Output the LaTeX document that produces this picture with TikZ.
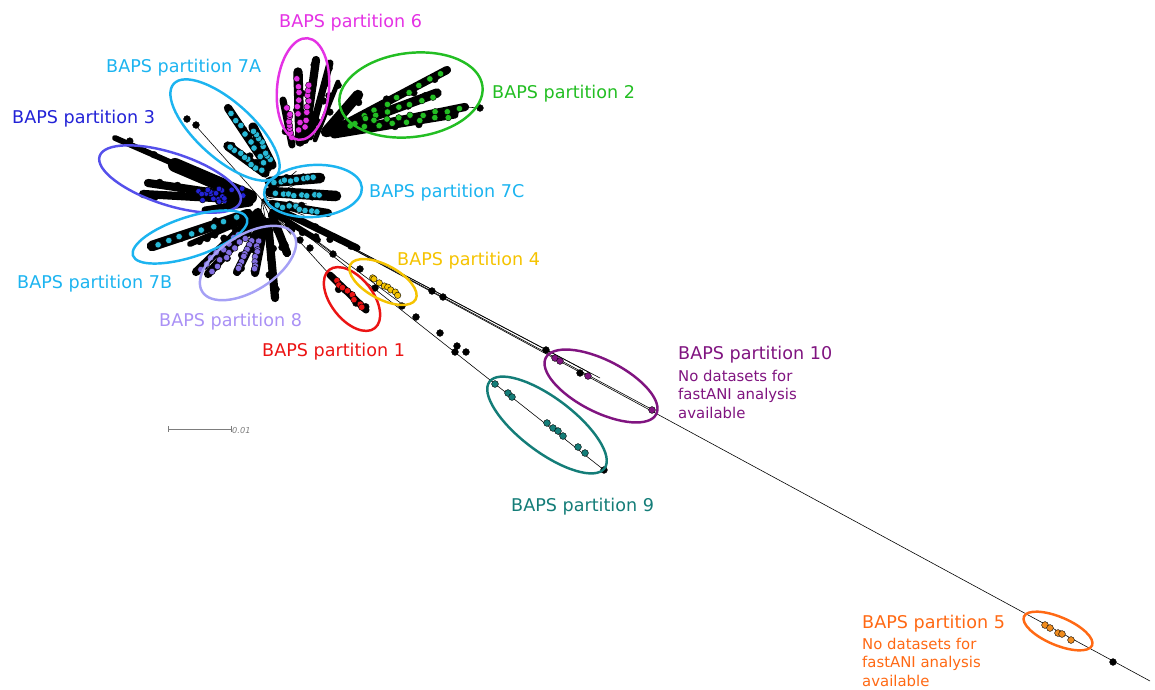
\documentclass[tikz,border=0pt]{standalone}
\usepackage{fontspec}
\setmainfont{DejaVu Sans}
\usetikzlibrary{calc}
\definecolor{cmag}{RGB}{228,50,228}
\definecolor{ccyan}{RGB}{28,180,240}
\definecolor{cblue}{RGB}{35,35,215}
\definecolor{cblueov}{RGB}{85,80,235}
\definecolor{cgreen}{RGB}{35,190,35}
\definecolor{cgold}{RGB}{245,195,0}
\definecolor{clav}{RGB}{170,145,245}
\definecolor{clavov}{RGB}{165,160,245}
\definecolor{cred}{RGB}{235,20,20}
\definecolor{cpurp}{RGB}{128,20,128}
\definecolor{cteal}{RGB}{20,125,120}
\definecolor{corange}{RGB}{255,105,20}
\definecolor{dcyan}{RGB}{40,185,215}
\definecolor{dlav}{RGB}{130,110,225}
\definecolor{dorange}{RGB}{240,140,30}
\definecolor{cbar}{RGB}{125,125,125}
\begin{document}
\begin{tikzpicture}[x=0.03cm,y=0.03cm,
    every node/.style={inner sep=0pt},
    oval/.style={line width=2.1pt},
    lab/.style={anchor=base west,font=\fontsize{15}{18}\selectfont},
    note/.style={anchor=north west,align=left,font=\fontsize{12.7}{15.6}\selectfont},
    twig/.style={line width=0.5pt,black},
    finger/.style={line width=#1,line cap=round,black},
    leaf/.style={draw=black,line width=0.35pt}]
  \useasboundingbox (0,0) rectangle (1155,-689);
  \pgfmathsetseed{11}
  \coordinate (hub) at (262,-200);
  % long branches
  \draw [twig] (hub) -- (1150,-681);
  \draw [twig] (hub) -- (653,-410);
  \draw [twig] (hub) -- (600,-378);
  \draw [twig] (hub) -- (590,-373);
  \draw [twig] (hub) -- (604,-470);
  \draw [twig] (hub) -- (402,-304);
  \draw [twig] (hub) -- (330,-275);
  \draw [twig] (hub) -- (333,-254);
  \draw [twig] (hub) -- (196,-126);
  \draw [twig] (465,-107) -- (480,-108);
  \foreach \a in {-95,-80,...,40}
    \draw [twig] (hub) -- ++(\a:45);
  % clusters of leaves
  \foreach \ax/\ay/\bx/\by/\w in {
      250/-197/115/-138/5pt, 250/-197/175/-165/12pt, 250/-198/148/-183/7pt,
      250/-200/143/-194/7pt, 250/-203/205/-210/6pt,
      268/-168/228/-108/7pt, 272/-165/253/-127/8pt, 265/-173/228/-146/8pt,
      292/-145/283/-100/6pt, 300/-142/298/-72/8pt, 305/-140/316/-60/7pt,
      310/-137/330/-63/6pt, 315/-140/338/-82/4pt,
      328/-133/447/-70/7pt, 332/-132/437/-93/8pt, 336/-133/465/-107/7pt,
      334/-135/455/-115/6pt, 326/-132/358/-95/9pt,
      270/-182/320/-178/9pt, 270/-192/336/-196/9pt, 272/-204/328/-213/7pt,
      248/-214/152/-246/9pt, 245/-220/190/-244/5pt,
      258/-212/196/-272/7pt, 260/-216/208/-274/7pt, 263/-220/237/-272/7pt,
      265/-222/255/-273/7pt, 268/-222/275/-298/7pt, 272/-215/287/-253/7pt,
      275/-208/357/-248/6pt, 272/-212/318/-240/5pt,
      330/-275/366/-310/6pt}
  {
    \draw [finger=\w] (\ax,\ay) -- (\bx,\by);
    \foreach \t in {0.3,0.5,...,1.0}
      \fill [leaf,fill=black] ($(\ax,\ay)!\t!(\bx,\by)+({rand*4},{rand*4})$) circle (3.4);
  }
  % coloured leaves along the clusters
  \foreach \ax/\ay/\bx/\by/\c in {
      266/-166/230/-110/dcyan, 270/-162/254/-129/dcyan, 262/-171/230/-147/dcyan,
      299/-132/297/-76/cmag, 305/-128/310/-82/cmag, 292/-138/288/-108/cmag,
      360/-118/445/-72/cgreen, 350/-125/437/-95/cgreen, 370/-122/462/-108/cgreen,
      345/-128/452/-116/cgreen,
      272/-182/316/-178/dcyan, 274/-193/322/-196/dcyan, 276/-205/318/-211/dcyan,
      240/-217/155/-246/dcyan,
      240/-232/200/-270/dlav, 246/-236/210/-272/dlav, 252/-240/238/-270/dlav,
      258/-240/254/-270/dlav,
      334/-279/364/-308/cred,
      370/-277/400/-296/cgold}
    \foreach \t in {0.05,0.18,...,1.0}
      \fill [leaf,fill=\c] ($(\ax,\ay)!\t!(\bx,\by)+({rand*1.5},{rand*1.5})$) circle (3.2);
  \foreach \i in {1,...,20}
    \fill [leaf,fill=cblue] ({220+24*rand},{-195+7*rand}) circle (2.8);
  \foreach \x/\y/\c in {
      187/-119/black, 196/-125/black, 480/-108/black,
      360/-269/black, 375/-288/black, 402/-306/black,
      300/-240/black, 310/-248/black, 333/-254/black,
      432/-291/black, 443/-297/black, 546/-350/black,
      416/-317/black, 440/-333/black, 457/-346/black, 455/-352/black, 466/-352/black,
      555/-358/cpurp, 560/-361/cpurp, 580/-373/black, 588/-376/cpurp, 652/-410/cpurp,
      495/-384/cteal, 508/-393/cteal, 512/-397/cteal, 547/-423/cteal, 553/-428/cteal,
      558/-431/cteal, 563/-436/cteal, 578/-447/cteal, 585/-453/cteal, 604/-470/black,
      1045/-625/dorange, 1050/-628/dorange, 1058/-633/dorange, 1062/-634/dorange,
      1071/-640/dorange, 1113/-662/black}
    \fill [leaf,fill=\c] (\x,\y) circle (3.4);
  % partition outlines
  \draw [oval,cmag,rotate around={-5:(303,-89)}] (303,-89) ellipse (26 and 51);
  \draw [oval,cgreen,rotate around={7:(411,-95)}] (411,-95) ellipse (72 and 42);
  \draw [oval,ccyan,rotate around={-42:(225,-130)}] (225,-130) ellipse (69 and 28);
  \draw [oval,cblueov,rotate around={-18:(170,-179)}] (170,-179) ellipse (74 and 26);
  \draw [oval,ccyan,rotate around={4:(313,-191)}] (313,-191) ellipse (49 and 26);
  \draw [oval,ccyan,rotate around={18:(190,-237)}] (190,-237) ellipse (60 and 20);
  \draw [oval,clavov,rotate around={32:(248,-263)}] (248,-263) ellipse (54 and 28);
  \draw [oval,cred,rotate around={-52:(352,-299)}] (352,-299) ellipse (37 and 21);
  \draw [oval,cgold,rotate around={-28:(383,-282)}] (383,-282) ellipse (37 and 17);
  \draw [oval,cpurp,rotate around={-27:(601,-386)}] (601,-386) ellipse (62 and 26);
  \draw [oval,cteal,rotate around={-37:(547,-425)}] (547,-425) ellipse (72 and 27);
  \draw [oval,corange,rotate around={-23:(1058,-631)}] (1058,-631) ellipse (37 and 14);
  % labels
  \node [lab,text=cmag] (lab6) at (279,-27) {BAPS partition 6};
  \node [lab,text=ccyan] (lab7a) at (106,-72) {BAPS partition 7A};
  \node [lab,text=cblue] (lab3) at (12,-123) {BAPS partition 3};
  \node [lab,text=cgreen] (lab2) at (492,-98) {BAPS partition 2};
  \node [lab,text=ccyan] (lab7c) at (369,-197) {BAPS partition 7C};
  \node [lab,text=cgold] (lab4) at (397,-265) {BAPS partition 4};
  \node [lab,text=ccyan] (lab7b) at (17,-288) {BAPS partition 7B};
  \node [lab,text=clav] (lab8) at (159,-326) {BAPS partition 8};
  \node [lab,text=cred] (lab1) at (262,-356) {BAPS partition 1};
  \node [lab,text=cpurp] (lab10) at (678,-359) {BAPS partition 10};
  \node [note,text=cpurp] (note10) at (678,-370) {No datasets for\\fastANI analysis\\available};
  \node [lab,text=cteal] (lab9) at (511,-511) {BAPS partition 9};
  \node [lab,text=corange] (lab5) at (862,-628) {BAPS partition 5};
  \node [note,text=corange] (note5) at (862,-638) {No datasets for\\fastANI analysis\\available};
  % scale bar
  \draw [cbar,line width=0.6pt] (168,-429) -- (231,-429);
  \draw [cbar,line width=0.6pt] (168,-426) -- (168,-432);
  \draw [cbar,line width=0.6pt] (231,-426) -- (231,-432);
  \node [anchor=west,text=cbar,font=\fontsize{7}{8}\selectfont\itshape] (scale) at (232,-431) {0.01};
\end{tikzpicture}
\end{document}
